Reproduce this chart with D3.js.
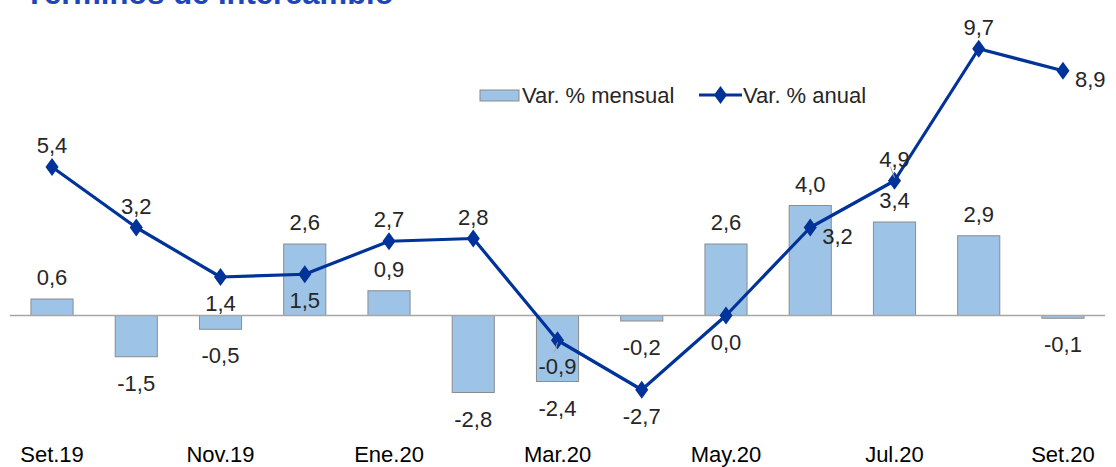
<!DOCTYPE html>
<html>
<head>
<meta charset="utf-8">
<script src="https://cdn.jsdelivr.net/npm/d3@7"></script>
<style>
  body { margin: 0; background: #fff; }
  svg text { font-family: "Liberation Sans", Arial, sans-serif; }
</style>
</head>
<body>
<div id="chart"></div>
<script>
// months shown on the x axis (every other one gets a tick label)
var months = ["Set.19", "Oct.19", "Nov.19", "Dic.19", "Ene.20", "Feb.20", "Mar.20",
              "Abr.20", "May.20", "Jun.20", "Jul.20", "Ago.20", "Set.20"];
var tickLabels = ["Set.19", "Nov.19", "Ene.20", "Mar.20", "May.20", "Jul.20", "Set.20"];
var mensual = [0.6, -1.5, -0.5, 2.6, 0.9, -2.8, -2.4, -0.2, 2.6, 4.0, 3.4, 2.9, -0.1];
var anual   = [5.4, 3.2, 1.4, 1.5, 2.7, 2.8, -0.9, -2.7, 0.0, 3.2, 4.9, 9.7, 8.9];
// where each annual label sits relative to its point
var anualPos = ["up", "up", "down", "down", "up", "up", "down", "down", "down", "right", "up", "up", "right"];

var width = 1116, height = 467;
var lineColor = "#003399", barColor = "#9dc3e6", textColor = "#262626";

var fmt = function(v) { return d3.format(".1f")(v).replace(".", ",").replace("\u2212", "-"); };

var x = d3.scaleBand()
        .domain(months)
        .range([9.9, 1105.1])
        .paddingInner(0.5)
        .paddingOuter(0.25);

var y = d3.scaleLinear()
        .domain([-4, 11])
        .range([425.5, 13]);

var cx = function(m) { return x(m) + x.bandwidth() / 2; };

var svg = d3.select("#chart").append("svg")
        .attr("width", width)
        .attr("height", height);

// title, cut at the top edge like the source
svg.append("text")
        .attr("x", 25)
        .attr("y", 4)
        .attr("font-size", 31)
        .attr("font-weight", "bold")
        .attr("fill", "#1f45bd")
        .text("Términos de Intercambio");

// bars
svg.append("g").selectAll("rect")
        .data(mensual)
        .join("rect")
        .attr("x", function(d, i) { return x(months[i]); })
        .attr("y", function(d) { return y(Math.max(0, d)); })
        .attr("width", x.bandwidth())
        .attr("height", function(d) { return Math.abs(y(d) - y(0)); })
        .attr("fill", barColor)
        .attr("stroke", "#8c8c8c")
        .attr("stroke-width", 1);

// zero line
svg.append("line")
        .attr("x1", x.range()[0]).attr("x2", x.range()[1])
        .attr("y1", y(0)).attr("y2", y(0))
        .attr("stroke", "#a6a6a6")
        .attr("stroke-width", 1.3);

// x axis labels
var xAxis = d3.axisBottom(x)
        .tickValues(tickLabels)
        .tickSize(0)
        .tickPadding(0);

svg.append("g")
        .attr("transform", "translate(0,446)")
        .call(xAxis)
        .call(function(g) { g.select(".domain").remove(); })
        .selectAll("text")
        .attr("font-size", 22)
        .attr("font-family", "Liberation Sans, Arial, sans-serif")
        .attr("fill", "#000");

// annual line
var line = d3.line()
        .x(function(d, i) { return cx(months[i]); })
        .y(function(d) { return y(d); });

svg.append("path")
        .datum(anual)
        .attr("d", line)
        .attr("fill", "none")
        .attr("stroke", lineColor)
        .attr("stroke-width", 3.2)
        .attr("stroke-linejoin", "round");

var diamond = d3.symbol().type(d3.symbolDiamond).size(95);

svg.append("g").selectAll("path")
        .data(anual)
        .join("path")
        .attr("d", diamond)
        .attr("transform", function(d, i) { return "translate(" + cx(months[i]) + "," + y(d) + ") scale(1.25,1)"; })
        .attr("fill", lineColor);

// bar value labels
svg.append("g").selectAll("text")
        .data(mensual)
        .join("text")
        .attr("x", function(d, i) { return cx(months[i]); })
        .attr("y", function(d) { return d >= 0 ? y(d) - 14 : y(d) + 34; })
        .attr("text-anchor", "middle")
        .attr("font-size", 22)
        .attr("fill", textColor)
        .text(fmt);

// small leader lines for the two annual labels that sit close to their points
svg.append("line")
        .attr("x1", cx(months[6]) - 3).attr("y1", y(anual[6]) + 12)
        .attr("x2", cx(months[6])).attr("y2", y(anual[6]) + 2)
        .attr("stroke", "#a6a6a6")
        .attr("stroke-width", 1);
svg.append("line")
        .attr("x1", cx(months[10]) - 4).attr("y1", y(anual[10]) - 14)
        .attr("x2", cx(months[10])).attr("y2", y(anual[10]) - 3)
        .attr("stroke", "#a6a6a6")
        .attr("stroke-width", 1);

// annual value labels
svg.append("g").selectAll("text")
        .data(anual)
        .join("text")
        .attr("x", function(d, i) {
            var p = anualPos[i];
            return p === "right" ? cx(months[i]) + 12 : cx(months[i]);
        })
        .attr("y", function(d, i) {
            var p = anualPos[i];
            if (p === "up") return y(d) - 14;
            if (p === "down") return y(d) + 34;
            return y(d) + 16;
        })
        .attr("text-anchor", function(d, i) { return anualPos[i] === "right" ? "start" : "middle"; })
        .attr("font-size", 22)
        .attr("fill", textColor)
        .text(fmt);

// legend
var legend = svg.append("g").attr("transform", "translate(480,103)");

legend.append("rect")
        .attr("x", 0).attr("y", -13)
        .attr("width", 39).attr("height", 11)
        .attr("fill", barColor)
        .attr("stroke", "#8c8c8c");

legend.append("text")
        .attr("x", 42).attr("y", 0)
        .attr("font-size", 22)
        .attr("fill", textColor)
        .text("Var. % mensual");

legend.append("line")
        .attr("x1", 219).attr("x2", 262)
        .attr("y1", -8).attr("y2", -8)
        .attr("stroke", lineColor)
        .attr("stroke-width", 3.2);

legend.append("path")
        .attr("d", diamond)
        .attr("transform", "translate(240.5,-8) scale(1.25,1)")
        .attr("fill", lineColor);

legend.append("text")
        .attr("x", 263).attr("y", 0)
        .attr("font-size", 22)
        .attr("fill", textColor)
        .text("Var. % anual");
</script>
</body>
</html>
